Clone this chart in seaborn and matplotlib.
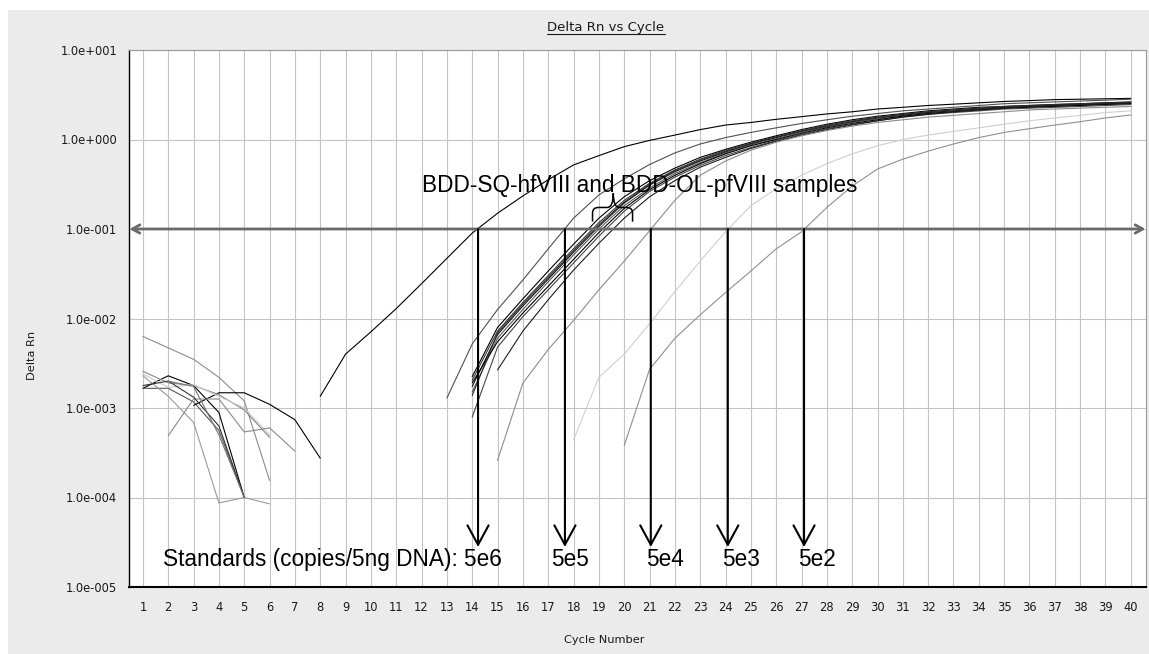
import matplotlib
matplotlib.use("Agg")
import matplotlib.pyplot as plt
from matplotlib.patches import Rectangle, PathPatch
from matplotlib.path import Path
from matplotlib.lines import Line2D
from matplotlib.ticker import FixedLocator, FixedFormatter, NullLocator
import seaborn as sns

# ---------------------------------------------------------------- axis data
cycle_ticks = list(range(1, 41))
y_ticks = [1e-5, 1e-4, 1e-3, 1e-2, 1e-1, 1e0, 1e1]
y_tick_labels = ["1.0e-005", "1.0e-004", "1.0e-003", "1.0e-002",
                 "1.0e-001", "1.0e+000", "1.0e+001"]
threshold = 0.1

# ------------------------------------------------- baseline noise (cycles)
noise_a = [6.3e-3, 4.7e-3, 3.5e-3, 2.2e-3, 1.2e-3, 1.55e-4]
noise_b = [1.66e-3, 2.29e-3, 1.78e-3, 8.9e-4, 1.0e-4]
noise_c = [1.66e-3, 1.66e-3, 1.17e-3, 5.6e-4, 1.0e-4]
noise_d = [1.07e-3, 1.48e-3, 1.48e-3, 1.10e-3, 7.4e-4, 2.75e-4]
noise_e = [2.57e-3, 1.91e-3, 1.78e-3, 1.41e-3, 9.5e-4, 4.7e-4]
noise_f = [2.4e-3, 1.7e-3, 1.82e-3, 1.35e-3, 1.0e-3, 5.0e-4]
noise_g = [2.29e-3, 1.35e-3, 6.9e-4, 8.7e-5, 1.0e-4, 8.5e-5]
noise_h = [4.9e-4, 1.26e-3, 1.26e-3, 5.4e-4, 6.0e-4, 3.3e-4]
noise_i = [1.78e-3, 2.0e-3, 1.32e-3, 6.3e-4, 1.0e-4]
noise_j = [2.0e-3, 1.74e-3, 5.0e-4, 1.0e-4]
noise_start = [1, 1, 1, 3, 1, 1, 1, 2, 1, 2]
noise_colors = ["#8c8c8c", "#000000", "#555555", "#000000", "#888888",
                "#c8c8c8", "#9a9a9a", "#8a8a8a", "#333333", "#777777"]

# ------------------------------------------------ standards (copies/5ng)
std_names = ["5e6", "5e5", "5e4", "5e3", "5e2"]
std_ct = [14.23, 17.66, 21.05, 24.09, 27.10]
std_start = [8, 13, 15, 18, 20]
std_5e6 = [1.35e-3, 4.0e-3, 7.1e-3, 0.0129, 0.0245, 0.047, 0.090, 0.150,
           0.234, 0.355, 0.520, 0.660, 0.832, 0.977, 1.12, 1.29, 1.45,
           1.55, 1.68, 1.80, 1.93, 2.04, 2.19, 2.29, 2.40, 2.48, 2.57,
           2.66, 2.72, 2.79, 2.82, 2.85, 2.88]
std_5e5 = [1.29e-3, 5.2e-3, 0.0126, 0.0269, 0.060, 0.132, 0.240, 0.363,
           0.525, 0.708, 0.891, 1.05, 1.20, 1.35, 1.51, 1.66, 1.82, 1.95,
           2.09, 2.19, 2.29, 2.40, 2.51, 2.57, 2.63, 2.69, 2.75, 2.82]
std_5e4 = [2.6e-4, 1.9e-3, 4.5e-3, 9.5e-3, 0.0209, 0.0437, 0.0955, 0.209,
           0.398, 0.575, 0.759, 0.933, 1.10, 1.26, 1.41, 1.55, 1.66, 1.78,
           1.86, 1.95, 2.04, 2.14, 2.19, 2.24, 2.29, 2.34]
std_5e3 = [4.4e-4, 2.2e-3, 4.0e-3, 8.7e-3, 0.020, 0.0437, 0.0933, 0.182,
           0.282, 0.398, 0.537, 0.692, 0.851, 1.0, 1.12, 1.23, 1.35, 1.48,
           1.62, 1.74, 1.86, 2.0, 2.09]
std_5e2 = [3.8e-4, 2.7e-3, 6.0e-3, 0.011, 0.0195, 0.0339, 0.060, 0.093,
           0.174, 0.302, 0.468, 0.603, 0.741, 0.891, 1.05, 1.20, 1.32,
           1.45, 1.58, 1.74, 1.88]
std_colors = ["#000000", "#505050", "#8c8c8c", "#cfcfcf", "#8f8f8f"]

# ------------------------------------- BDD-SQ-hfVIII / BDD-OL-pfVIII wells
sample_1 = [2.24e-3, 7.94e-3, 0.0166, 0.0339, 0.0676, 0.132, 0.229, 0.347,
            0.479, 0.631, 0.776, 0.933, 1.10, 1.29, 1.48, 1.66, 1.82, 1.95,
            2.09, 2.19, 2.29, 2.34, 2.40, 2.46, 2.51, 2.57, 2.63]
sample_2 = [2.04e-3, 7.24e-3, 0.0151, 0.0302, 0.0603, 0.118, 0.209, 0.324,
            0.457, 0.603, 0.759, 0.912, 1.07, 1.26, 1.45, 1.62, 1.78, 1.91,
            2.04, 2.14, 2.24, 2.29, 2.34, 2.40, 2.46, 2.51, 2.57]
sample_3 = [1.74e-3, 6.61e-3, 0.0138, 0.0275, 0.0550, 0.107, 0.195, 0.309,
            0.437, 0.575, 0.724, 0.891, 1.05, 1.23, 1.41, 1.58, 1.74, 1.86,
            2.00, 2.09, 2.19, 2.26, 2.34, 2.40, 2.46, 2.51, 2.54]
sample_4 = [1.51e-3, 6.03e-3, 0.0126, 0.0257, 0.0513, 0.100, 0.182, 0.288,
            0.417, 0.550, 0.708, 0.871, 1.02, 1.20, 1.38, 1.55, 1.70, 1.82,
            1.95, 2.04, 2.14, 2.24, 2.29, 2.34, 2.40, 2.46, 2.51]
sample_5 = [1.91e-3, 5.50e-3, 0.0115, 0.0229, 0.0457, 0.0912, 0.170, 0.275,
            0.398, 0.537, 0.692, 0.851, 1.00, 1.17, 1.35, 1.51, 1.66, 1.82,
            1.95, 2.04, 2.14, 2.24, 2.29, 2.34, 2.40, 2.46, 2.51]
sample_6 = [7.94e-4, 4.79e-3, 0.0105, 0.0209, 0.0417, 0.0832, 0.158, 0.263,
            0.380, 0.513, 0.661, 0.813, 0.977, 1.15, 1.32, 1.48, 1.62, 1.78,
            1.91, 2.00, 2.09, 2.19, 2.24, 2.29, 2.34, 2.40, 2.46]
sample_7 = [2.66e-3, 7.24e-3, 0.0162, 0.0347, 0.0692, 0.132, 0.229, 0.347,
            0.490, 0.631, 0.794, 0.955, 1.12, 1.29, 1.45, 1.62, 1.78, 1.91,
            2.04, 2.14, 2.24, 2.34, 2.40, 2.46, 2.51, 2.57]
sample_8 = [1.38e-3, 6.92e-3, 0.0145, 0.0288, 0.0575, 0.112, 0.200, 0.316,
            0.447, 0.589, 0.741, 0.891, 1.07, 1.23, 1.41, 1.58, 1.74, 1.91,
            2.04, 2.14, 2.24, 2.34, 2.40, 2.46, 2.51, 2.57, 2.60]
sample_start = [14, 14, 14, 14, 14, 14, 15, 14]
sample_colors = ["#000000", "#3a3a3a", "#111111", "#5a5a5a", "#000000",
                 "#444444", "#1e1e1e", "#2d2d2d"]

noise_series = [noise_a, noise_b, noise_c, noise_d, noise_e,
                noise_f, noise_g, noise_h, noise_i, noise_j]
std_series = [std_5e6, std_5e5, std_5e4, std_5e3, std_5e2]
sample_series = [sample_1, sample_2, sample_3, sample_4,
                 sample_5, sample_6, sample_7, sample_8]

# ------------------------------------------------------------ figure setup
sns.set_theme(style="white")
plt.rcParams["font.family"] = ["DejaVu Sans"]

W, H = 1149, 654
fig = plt.figure(figsize=(W / 100, H / 100), dpi=100, facecolor="white")
fig.add_artist(Rectangle((8 / W, 0), 1 - 8 / W, (H - 10) / H,
                         transform=fig.transFigure, facecolor="#ebebeb",
                         edgecolor="none", zorder=-10))
ax = fig.add_axes([129 / W, 67 / H, 1017 / W, 537 / H])
ax.set_facecolor("white")
ax.set_yscale("log")


def draw_curve(start, values, color, lw=0.8):
    cycles = list(range(start, start + len(values)))
    sns.lineplot(x=cycles, y=values, ax=ax, color=color, linewidth=lw,
                 legend=False, estimator=None)


for start, vals, col in zip(noise_start, noise_series, noise_colors):
    draw_curve(start, vals, col)
for start, vals, col in zip(sample_start, sample_series, sample_colors):
    draw_curve(start, vals, col)
for start, vals, col in zip(std_start, std_series, std_colors):
    draw_curve(start, vals, col)

ax.set_xlim(0.45, 40.6)
ax.set_ylim(1e-5, 10)
ax.xaxis.set_major_locator(FixedLocator(cycle_ticks))
ax.xaxis.set_major_formatter(FixedFormatter([str(c) for c in cycle_ticks]))
ax.xaxis.set_minor_locator(NullLocator())
ax.yaxis.set_major_locator(FixedLocator(y_ticks))
ax.yaxis.set_major_formatter(FixedFormatter(y_tick_labels))
ax.yaxis.set_minor_locator(NullLocator())
ax.grid(True, which="major", color="#c4c4c4", linewidth=0.8)
ax.set_axisbelow(True)
ax.tick_params(axis="both", length=0, labelsize=8.3, labelcolor="#1a1a1a")
ax.tick_params(axis="y", pad=8.5)
ax.tick_params(axis="x", pad=10)
ax.set_xlabel("")
ax.set_ylabel("")
for side in ("left", "bottom"):
    ax.spines[side].set_color("black")
ax.spines["left"].set_linewidth(1.0)
ax.spines["bottom"].set_linewidth(1.5)
for side in ("top", "right"):
    ax.spines[side].set_color("#9a9a9a")
    ax.spines[side].set_linewidth(0.8)

# threshold line with arrowheads at both ends
ax.annotate("", xy=(40.58, threshold), xytext=(0.47, threshold),
            arrowprops=dict(arrowstyle="<->,head_length=0.45,head_width=0.25",
                            color="#6a6a6a", lw=2.0, shrinkA=0, shrinkB=0,
                            mutation_scale=12))

# arrows from threshold down to each standard's label
arrow_tip = 2.8e-5
for ct in std_ct:
    ax.annotate("", xy=(ct, arrow_tip), xytext=(ct, threshold),
                arrowprops=dict(arrowstyle="->,head_length=0.7,head_width=0.38",
                                color="black", lw=1.5, shrinkA=0, shrinkB=0,
                                mutation_scale=20))

label_font = dict(family="Liberation Sans", fontsize=16.3, color="black")
label_y = 1.73e-5
ax.text(1.79, label_y, "Standards (copies/5ng DNA): " + std_names[0],
        ha="left", va="baseline", **label_font)
std_label_x = [None, 17.86, 21.61, 24.61, 27.61]
for name, lx in zip(std_names[1:], std_label_x[1:]):
    ax.text(lx, label_y, name, ha="center", va="baseline", **label_font)

ax.text(12.01, 0.261, "BDD-SQ-hfVIII and BDD-OL-pfVIII samples",
        ha="left", va="baseline", **label_font)

# curly brace grouping the sample wells
bx0, bxc, bx1, br = 18.75, 19.57, 20.33, 0.24
yb, ylow, ym, yt = 0.1208, 0.151, 0.174, 0.2506
brace_verts = [
    (bx0, yb), (bx0, ylow), (bx0, ym), (bx0 + br, ym), (bxc - br, ym),
    (bxc, ym), (bxc, yt),
    (bxc, ym), (bxc + br, ym), (bx1 - br, ym), (bx1, ym), (bx1, ylow),
    (bx1, yb),
]
brace_codes = [
    Path.MOVETO, Path.LINETO, Path.CURVE3, Path.CURVE3, Path.LINETO,
    Path.CURVE3, Path.CURVE3,
    Path.CURVE3, Path.CURVE3, Path.LINETO, Path.CURVE3, Path.CURVE3,
    Path.LINETO,
]
ax.add_patch(PathPatch(Path(brace_verts, brace_codes), facecolor="none",
                       edgecolor="black", lw=1.1, zorder=4))

# chart title (underlined) and axis titles
title = fig.text(606 / W, 1 - 28 / H, "Delta Rn vs Cycle", ha="center",
                 va="center", fontsize=9.5, color="#1a1a1a")
fig.text(32 / W, 1 - 355 / H, "Delta Rn", rotation=90, ha="center",
         va="center", fontsize=8.2, color="#1a1a1a")
fig.text(604 / W, 1 - 640 / H, "Cycle Number", ha="center", va="center",
         fontsize=8.2, color="#1a1a1a")

fig.canvas.draw()
bb = title.get_window_extent()
inv = fig.transFigure.inverted()
(ux0, uy0), (ux1, _) = inv.transform([(bb.x0, bb.y0), (bb.x1, bb.y1)])
fig.add_artist(Line2D([ux0, ux1], [uy0 + 1.0 / H, uy0 + 1.0 / H],
                      transform=fig.transFigure, color="#1a1a1a", lw=0.8))

fig.savefig("out.png", dpi=100, facecolor=fig.get_facecolor())
